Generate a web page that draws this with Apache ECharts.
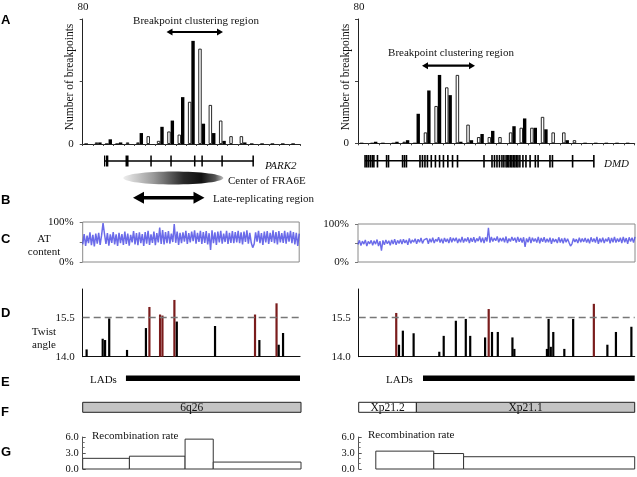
<!DOCTYPE html>
<html><head><meta charset="utf-8">
<script src="https://cdn.jsdelivr.net/npm/echarts@6/dist/echarts.min.js"></script>
<style>html,body{margin:0;padding:0;background:#fff}#c{width:637px;height:477px}</style>
</head><body><div id="c"></div>
<script>
// ---------- DATA ----------
// Panel A: breakpoints per bin (white = open bars, black = filled bars)
const bpLeftWhite  = [0,1,0,0,1,1,5,2,8,6,27,61,25,15,5,5,0,0,0,0,0];
const bpLeftBlack  = [0,1,3,1,0,7,0,11,15,30,66,13,7,2,0,1,0,0,0,0,0];
const bpRightWhite = [0,0,0,0,1,0,7,24,36,44,12,4,4,4,7,10,10,17,7,7,2,0,0,0,0,0];
const bpRightBlack = [0,1,0,1,2,19,34,44,31,1,2,6,8,0,11,16,10,9,0,2,0,0,0,0,0,0];
const bpYTicks = [0, 80];
// Gene structures (position units 0-1000 along the region)
const park2Span = [98, 786];
const park2Exons = [[98,104],[107,118],[197,211],[311,318],[403,410],[512,519],[546,553],[638,645],[781,788]];
const dmdSpan = [23, 852];
const dmdExonCenters = [23,29,35,42,49,55,68,101,108,159,166,173,222,231,240,249,263,278,293,307,323,340,358,454,483,492,501,510,519,526,534,539,544,550,555,561,566,572,577,584,595,606,621,640,650,693,702,775,852];
// Panel C: AT content (%)
const atLeft = [44,70,40,66,47,74,42,68,39,71,
 46,73,43,67,97,70,45,72,41,69,
 48,75,44,69,40,73,47,70,43,76,
 45,71,41,68,49,77,44,72,42,74,
 47,70,40,75,46,78,43,69,48,76,
 42,72,49,86,45,80,44,75,47,77,
 46,71,50,95,48,76,43,73,47,74,
 51,78,45,72,49,76,52,79,46,73,
 50,78,45,75,48,77,44,72,30,79,
 47,74,43,76,49,78,46,71,50,78,
 45,73,48,77,47,75,49,78,47,74,
 44,76,50,79,46,73,48,36,45,74,
 51,78,47,72,43,76,49,77,45,73,
 50,79,47,75,44,77,49,72,48,78,
 46,74,51,78,47,75,44,73,40,71];
const atRight = [46,57,43,55,47,58,42,54,48,57,
 44,56,47,59,42,55,30,57,45,58,
 48,56,44,58,47,60,45,57,49,59,
 47,60,50,58,45,62,49,58,52,61,
 48,60,52,63,49,58,53,62,48,61,
 52,64,50,60,54,65,51,61,49,63,
 53,61,50,65,52,63,55,64,50,61,
 52,66,51,62,54,65,50,63,53,65,
 51,62,55,67,52,64,50,65,54,90,
 51,66,54,63,56,67,52,63,55,64,
 52,67,50,62,54,66,56,64,51,66,
 53,63,51,65,40,62,52,66,50,64,
 54,62,51,66,49,63,53,65,51,61,
 52,64,48,62,53,60,50,65,51,62,
 49,63,52,61,51,42,48,62,53,60,
 50,64,52,62,53,63,51,61,49,65,
 53,62,51,66,48,62,52,64,50,61,
 54,65,49,63,52,66,51,62,53,64,
 50,66,52,63,48,65,54,64,51,66];
// Panel D: twist angle peaks (position, angle)
const twistLeftPos = [18,92,103,122,204,291,307,356,367,422,433,609,793,813,892,902,922];
const twistLeftVal = [14.28,14.69,14.64,15.47,14.26,15.10,15.91,15.62,15.58,16.18,15.35,15.18,15.62,14.64,16.05,14.46,14.91];
const twistRightPos = [136,146,160,199,292,308,352,388,404,458,471,483,504,557,564,682,688,696,705,745,777,852,901,932,988];
const twistRightVal = [15.68,14.46,15.00,14.90,14.19,14.80,15.38,15.45,14.80,14.74,15.83,14.95,14.95,14.74,14.30,14.30,15.45,14.38,14.95,14.30,15.45,16.03,14.46,14.95,15.15];
const twistThreshold = 15.5;
const twistTicks = [14.0, 15.5];
// Panel E: LADs
const ladLeft = [[199, 1000]];
const ladRight = [[233, 1000]];
// Panel F: cytobands
const bandLeftNames = ['6q26'];
const bandLeftRanges = [[0, 1000]];
const bandLeftShade = [1];
const bandRightNames = ['Xp21.2', 'Xp21.1'];
const bandRightRanges = [[0, 209], [209, 1000]];
const bandRightShade = [0, 1];
// Panel G: recombination rate steps [start, end, rate]
const recLeft = [[0,214,2.0],[214,469,2.4],[469,598,5.6],[598,1000,1.3]];
const recRight = [[62,272,3.35],[272,380,2.9],[380,1000,2.3]];
const recTicks = [0, 3, 6];

// ---------- CHART ----------
const SERIF = 'Liberation Serif';
const SANS = 'Liberation Sans';
const chart = echarts.init(document.getElementById('c'), null, {renderer: 'canvas'});

const grids = [
  {left:82.7, top:19, width:217.3, height:125},     //0 A left
  {left:358, top:19, width:276.7, height:124.3},    //1 A right
  {left:82.7, top:155.5, width:217.3, height:11},   //2 gene left
  {left:358.7, top:155, width:276, height:12.5},    //3 gene right
  {left:82.7, top:222, width:216.5, height:40},     //4 C left
  {left:358, top:224, width:277, height:38},        //5 C right
  {left:82.7, top:289, width:217.3, height:67.7},   //6 D left
  {left:358.7, top:289, width:276, height:67.7},    //7 D right
  {left:82.7, top:375.5, width:217.3, height:5.5},  //8 E left
  {left:358.7, top:375.5, width:276, height:5.5},   //9 E right
  {left:82.7, top:402.3, width:218.3, height:10},   //10 F left
  {left:358.7, top:402.3, width:276, height:10},    //11 F right
  {left:82.7, top:437, width:218.3, height:32},     //12 G left
  {left:358.7, top:437, width:276, height:32}       //13 G right
].map((g, i) => Object.assign({containLabel:false, show: (i===4||i===5), borderColor:'#8a8a8a', borderWidth:1, backgroundColor:'transparent'}, g));

const hiddenAxis = {axisLine:{show:false}, axisTick:{show:false}, axisLabel:{show:false}, splitLine:{show:false}};
const lbl = {fontFamily: SERIF, fontSize: 11, color: '#111'};

const xAxes = [], yAxes = [];
// A
[[bpLeftWhite,0],[bpRightWhite,1]].forEach(([arr, gi]) => {
  xAxes.push({gridIndex:gi, type:'category', data: arr.map((_, i) => String(i + 1)), boundaryGap:true,
    axisLine:{show:true, lineStyle:{color:'#222', width:1}},
    axisTick:{show:true, length:2, interval:0, lineStyle:{color:'#444'}},
    axisLabel:{show:false}, splitLine:{show:false}});
  yAxes.push({gridIndex:gi, type:'value', min:0, max:80, interval:40,
    axisLine:{show:true, lineStyle:{color:'#222'}},
    axisTick:{show:true, length:3, lineStyle:{color:'#444'}},
    axisLabel:Object.assign({formatter: v => (v === bpYTicks[0] ? String(v) : ''), margin:9}, lbl),
    splitLine:{show:false}});
});
// genes
[2,3].forEach(gi => {
  xAxes.push(Object.assign({gridIndex:gi, type:'value', min:0, max:1000}, hiddenAxis));
  yAxes.push(Object.assign({gridIndex:gi, type:'value', min:0, max:1}, hiddenAxis));
});
// C
[[atLeft,4],[atRight,5]].forEach(([arr, gi]) => {
  xAxes.push(Object.assign({gridIndex:gi, type:'value', min:0, max:arr.length - 1}, hiddenAxis));
  yAxes.push({gridIndex:gi, type:'value', min:0, max:100, interval:50,
    axisLine:{show:false},
    axisTick:{show:true, length:3, lineStyle:{color:'#777'}},
    axisLabel:Object.assign({formatter: v => (v === 0 || v === 100 ? v + '%' : ''), margin:9}, lbl),
    splitLine:{show:false}});
});
// D
[6,7].forEach(gi => {
  xAxes.push({gridIndex:gi, type:'value', min:0, max:1000,
    axisLine:{show:true, onZero:false, lineStyle:{color:'#111', width:1.2}}, axisTick:{show:false}, axisLabel:{show:false}, splitLine:{show:false}});
  yAxes.push({gridIndex:gi, type:'value', min:14, max:16.6, interval:0.5,
    axisLine:{show:true, lineStyle:{color:'#111', width:1}}, axisTick:{show:false},
    axisLabel:Object.assign({formatter: v => (twistTicks.some(t => Math.abs(t - v) < 1e-6) ? v.toFixed(1) : ''), margin:8, showMaxLabel:false}, lbl),
    splitLine:{show:false}});
});
// E, F
[8,9,10,11].forEach(gi => {
  xAxes.push(Object.assign({gridIndex:gi, type:'value', min:0, max:1000}, hiddenAxis));
  yAxes.push(Object.assign({gridIndex:gi, type:'value', min:0, max:1}, hiddenAxis));
});
// G
[12,13].forEach(gi => {
  xAxes.push(Object.assign({gridIndex:gi, type:'value', min:0, max:1000}, hiddenAxis));
  yAxes.push({gridIndex:gi, type:'value', min:0, max:6, interval:3,
    axisLine:{show:true, lineStyle:{color:'#555'}},
    axisTick:{show:true, inside:true, length:3, lineStyle:{color:'#555'}},
    minorTick:{show:true, splitNumber:3, length:2, lineStyle:{color:'#777'}},
    axisLabel:Object.assign({formatter: v => (recTicks.indexOf(v) >= 0 ? v.toFixed(1) : ''), margin:4}, lbl, {fontSize:10.5}),
    splitLine:{show:false}});
});

function rectFrom(api, x0, y0, x1, y1) {
  const p0 = api.coord([x0, y0]), p1 = api.coord([x1, y1]);
  return {x: Math.min(p0[0], p1[0]), y: Math.min(p0[1], p1[1]), width: Math.abs(p1[0] - p0[0]), height: Math.abs(p1[1] - p0[1])};
}

const series = [];
// A bars
[[bpLeftWhite, bpLeftBlack, 0],[bpRightWhite, bpRightBlack, 1]].forEach(([w, b, gi]) => {
  series.push({type:'bar', xAxisIndex:gi, yAxisIndex:gi, data:w, barWidth:3.4, barGap:'0%',
    itemStyle:{color:'#fff', borderColor:'#111', borderWidth:0.9}, silent:true});
  series.push({type:'bar', xAxisIndex:gi, yAxisIndex:gi, data:b, barWidth:3.4, barGap:'0%',
    itemStyle:{color:'#000'}, silent:true});
});
// genes
series.push({type:'line', xAxisIndex:2, yAxisIndex:2, data:[[park2Span[0],0.5],[park2Span[1],0.5]], symbol:'none', lineStyle:{color:'#000', width:1.5}, silent:true});
series.push({type:'custom', xAxisIndex:2, yAxisIndex:2, data:park2Exons,
  renderItem:(p, api) => ({type:'rect', shape:rectFrom(api, api.value(0), 1, api.value(1), 0), style:{fill:'#000'}})});
series.push({type:'line', xAxisIndex:3, yAxisIndex:3, data:[[dmdSpan[0],0.55],[dmdSpan[1],0.55]], symbol:'none', lineStyle:{color:'#000', width:1.5}, silent:true});
series.push({type:'custom', xAxisIndex:3, yAxisIndex:3, data:dmdExonCenters.map(c => [c]),
  renderItem:(p, api) => {
    const top = api.coord([api.value(0), 1]), bot = api.coord([api.value(0), 0]);
    return {type:'rect', shape:{x:top[0]-0.8, y:top[1], width:1.6, height:bot[1]-top[1]}, style:{fill:'#000'}};
  }});
// C lines
[[atLeft,4,1.5],[atRight,5,1.4]].forEach(([arr, gi, lw]) => {
  series.push({type:'line', xAxisIndex:gi, yAxisIndex:gi, data:arr.map((v, i) => [i, v]), symbol:'none',
    lineStyle:{color:'#4646e4', width:lw, opacity:0.8}, clip:true, silent:true});
});
// D bars
[[twistLeftPos, twistLeftVal, 6],[twistRightPos, twistRightVal, 7]].forEach(([pos, val, gi]) => {
  series.push({type:'custom', xAxisIndex:gi, yAxisIndex:gi, data:pos.map((x, i) => [x, val[i]]),
    renderItem:(p, api) => {
      const top = api.coord([api.value(0), api.value(1)]), base = api.coord([api.value(0), 14]);
      return {type:'rect', shape:{x:top[0]-1.1, y:top[1], width:2.2, height:base[1]-top[1]},
        style:{fill: api.value(1) > twistThreshold ? '#7a1c1c' : '#000'}};
    },
    markLine:{silent:true, symbol:'none', label:{show:false},
      lineStyle:{color:'#777', type:[7,4], width:1.4}, data:[{yAxis:twistThreshold}]}});
});
// E LADs
[[ladLeft,8],[ladRight,9]].forEach(([arr, gi]) => {
  series.push({type:'custom', xAxisIndex:gi, yAxisIndex:gi, data:arr,
    renderItem:(p, api) => ({type:'rect', shape:rectFrom(api, api.value(0), 1, api.value(1), 0), style:{fill:'#000'}})});
});
// F bands
[[bandLeftNames, bandLeftRanges, bandLeftShade, 10],[bandRightNames, bandRightRanges, bandRightShade, 11]].forEach(([names, ranges, shade, gi]) => {
  series.push({type:'custom', xAxisIndex:gi, yAxisIndex:gi,
    data:ranges.map((r, i) => ({value:[r[0], r[1], shade[i]], name:names[i]})),
    renderItem:(p, api) => {
      const r = rectFrom(api, api.value(0), 1, api.value(1), 0);
      return {type:'group', children:[
        {type:'rect', shape:r, style:{fill: api.value(2) ? '#c4c4c4' : '#fff', stroke:'#222', lineWidth:1}},
        {type:'text', x:r.x + r.width/2, y:r.y + r.height/2 + 0.5, style:{text:names[p.dataIndex], fontFamily:SERIF, fontSize:11.5, fill:'#111', align:'center', verticalAlign:'middle'}}
      ]};
    }});
});
// G steps
[[recLeft,12],[recRight,13]].forEach(([arr, gi]) => {
  series.push({type:'custom', xAxisIndex:gi, yAxisIndex:gi, data:arr,
    renderItem:(p, api) => ({type:'rect', shape:rectFrom(api, api.value(0), api.value(2), api.value(1), 0),
      style:{fill:'#fff', stroke:'#333', lineWidth:1}})});
});

// ---------- annotations ----------
function dblArrow(x1, x2, y, h, w, t) {
  return {type:'polygon', shape:{points:[[x1,y],[x1+h,y-w],[x1+h,y-t],[x2-h,y-t],[x2-h,y-w],[x2,y],[x2-h,y+w],[x2-h,y+t],[x1+h,y+t],[x1+h,y+w]]},
    style:{fill:'#000'}, silent:true};
}
function txt(x, y, text, opt) {
  return Object.assign({type:'text', x:x, y:y, silent:true,
    style:Object.assign({text:text, fontFamily:SERIF, fontSize:11, fill:'#111', align:'left', verticalAlign:'middle'}, opt || {})});
}
const letters = [['A',20],['B',200],['C',239],['D',313],['E',382],['F',412],['G',452]];
const graphic = [];
letters.forEach(([l, y]) => graphic.push(txt(1, y, l, {fontFamily:SANS, fontWeight:'bold', fontSize:13, fill:'#000'})));
graphic.push(
  txt(83, 7, '80', {align:'center'}),
  txt(359, 7, '80', {align:'center'}),
  Object.assign(txt(70, 77, 'Number of breakpoints', {align:'center', fontSize:11.5}), {rotation:Math.PI/2}),
  Object.assign(txt(346, 77, 'Number of breakpoints', {align:'center', fontSize:11.5}), {rotation:Math.PI/2}),
  txt(196, 21, 'Breakpoint clustering region', {align:'center', fontSize:11}),
  dblArrow(166.5, 223, 32, 6, 3.5, 1.1),
  txt(451, 53, 'Breakpoint clustering region', {align:'center', fontSize:11}),
  dblArrow(422, 475, 65.7, 6, 3.5, 1.1),
  txt(265, 166, 'PARK2', {fontStyle:'italic'}),
  txt(604, 164, 'DMD', {fontStyle:'italic'}),
  {type:'ellipse', shape:{cx:173.3, cy:178, rx:50, ry:6.5}, silent:true,
   style:{fill:{type:'linear', x:0, y:0, x2:1, y2:0, colorStops:[
     {offset:0, color:'#eeeeee'},{offset:0.3, color:'#9a9a9a'},{offset:0.6, color:'#2a2a2a'},{offset:0.78, color:'#111'},{offset:0.92, color:'#555'},{offset:1, color:'#bdbdbd'}]}}},
  txt(228, 181, 'Center of FRA6E'),
  dblArrow(133, 204.5, 197.7, 11, 6, 1.8),
  txt(213, 199, 'Late-replicating region'),
  txt(44, 238.7, 'AT', {align:'center'}),
  txt(44, 251.7, 'content', {align:'center'}),
  txt(44, 332, 'Twist', {align:'center'}),
  txt(44, 345, 'angle', {align:'center'}),
  txt(90, 380, 'LADs'),
  txt(386, 380, 'LADs'),
  txt(92, 436, 'Recombination rate'),
  txt(368, 435, 'Recombination rate')
);

chart.setOption({
  animation:false,
  backgroundColor:'#fff',
  grid:grids,
  xAxis:xAxes,
  yAxis:yAxes,
  series:series,
  graphic:graphic
});
</script>
</body></html>
